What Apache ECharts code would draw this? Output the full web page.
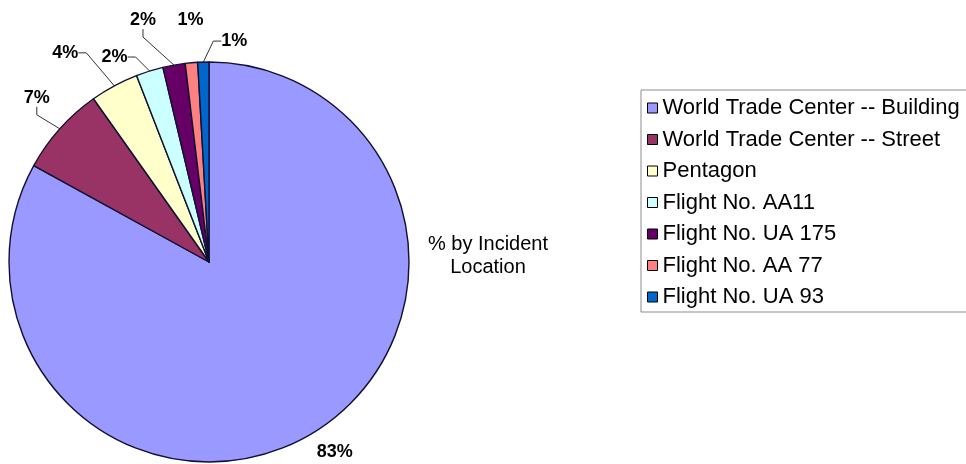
<!DOCTYPE html>
<html><head><meta charset="utf-8">
<script src="https://cdn.jsdelivr.net/npm/echarts@6.0.0/dist/echarts.min.js"></script>
<style>html,body{margin:0;padding:0;background:#fff}#c{width:966px;height:464px}</style>
</head><body><div id="c"></div>
<script>
const categories = ['World Trade Center -- Building', 'World Trade Center -- Street', 'Pentagon', 'Flight No. AA11', 'Flight No. UA 175', 'Flight No. AA 77', 'Flight No. UA 93'];
const percentValues = [83.0, 7.2, 3.9, 2.2, 1.8, 1.0, 0.9];
const seriesName = '% by Incident Location';

const sliceColors = ['#9999FF', '#993366', '#FFFFCC', '#CCFFFF', '#660066', '#FF8080', '#0066CC'];
const showLeader = [false, true, true, true, true, false, true];
// label offsets relative to the slice edge at its mid-angle (layout only)
const labelOffsets = [[24, 18], [-23, -31], [-49, -33], [-35, -14], [-31, -45], [-1, -43], [31, -21]];
const CX = 209, CY = 262, R = 200;
const FONT = "'Liberation Sans', Arial, sans-serif";

const chart = echarts.init(document.getElementById('c'), null, {renderer: 'canvas'});
const total = percentValues.reduce((a, b) => a + b, 0);

chart.setOption({
  animation: false,
  backgroundColor: '#fff',
  title: {
    text: '% by Incident\nLocation',
    left: 483, top: 228, textAlign: 'center',
    textStyle: {fontFamily: FONT, fontSize: 20, fontWeight: 'normal', color: '#000', lineHeight: 23}
  },
  legend: {
    orient: 'vertical', left: 641, top: 90,
    padding: [7, 40, 4, 6],
    itemWidth: 10, itemHeight: 10, itemGap: 9.5,
    icon: 'rect',
    itemStyle: {borderColor: '#000', borderWidth: 1},
    borderColor: '#8c8c8c', borderWidth: 1, borderRadius: 0,
    selectedMode: false,
    data: categories,
    textStyle: {fontFamily: FONT, fontSize: 22, color: '#000', lineHeight: 22}
  },
  series: [{
    type: 'pie',
    name: seriesName,
    center: [CX, CY],
    radius: R,
    startAngle: 90,
    clockwise: true,
    avoidLabelOverlap: false,
    itemStyle: {borderColor: '#111133', borderWidth: 1.4},
    emphasis: {disabled: true},
    label: {
      show: true, position: 'outside',
      fontFamily: FONT, fontSize: 18, fontWeight: 'bold', color: '#000',
      formatter: p => Math.round(p.percent) + '%'
    },
    labelLine: {show: true, length: 8, length2: 8, lineStyle: {color: '#333', width: 1}},
    labelLayout: function (p) {
      const i = p.dataIndex;
      let before = 0;
      for (let k = 0; k < i; k++) before += percentValues[k];
      const mid = (before + percentValues[i] / 2) / total * 2 * Math.PI;
      const ex = CX + R * Math.sin(mid), ey = CY - R * Math.cos(mid);
      return {x: ex + labelOffsets[i][0], y: ey + labelOffsets[i][1], align: 'center', verticalAlign: 'middle'};
    },
    data: categories.map((name, i) => ({
      name: name,
      value: percentValues[i],
      itemStyle: {color: sliceColors[i]},
      labelLine: {show: showLeader[i]}
    }))
  }]
});
</script>
</body></html>
